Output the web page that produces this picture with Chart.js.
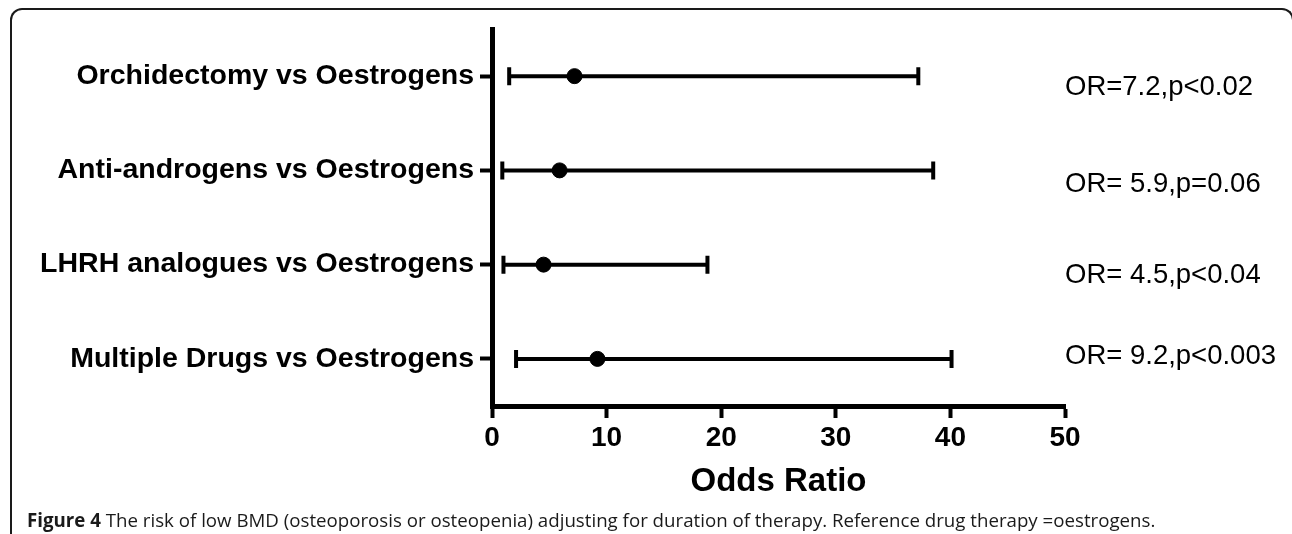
<!DOCTYPE html>
<html>
<head>
<meta charset="utf-8">
<script src="https://cdn.jsdelivr.net/npm/chart.js@4.4.1/dist/chart.umd.min.js"></script>
<style>
  html, body { margin: 0; padding: 0; background: #fff; }
  body { width: 1292px; height: 534px; position: relative; overflow: hidden; }
  .frame {
    position: absolute; left: 10px; top: 8px; width: 1280px; height: 600px;
    border: 2px solid #1a1a1a; border-bottom: none;
    border-radius: 12px 12px 0 0;
  }
  #chartBox { position: absolute; left: 0; top: 0; width: 1292px; height: 534px; }
  .caption {
    position: absolute; left: 27px; top: 507px; white-space: nowrap;
    font-family: "Open Sans", sans-serif; font-size: 18.7px; color: #1a1a1a;
    line-height: 25px;
  }
  .caption b { font-weight: 700; }
</style>
</head>
<body>
<div class="frame"></div>
<div id="chartBox"><canvas id="forestChart"></canvas></div>
<div class="caption"><b>Figure 4</b> The risk of low BMD (osteoporosis or osteopenia) adjusting for duration of therapy. Reference drug therapy =oestrogens.</div>
<script>
const categories = [
    'Orchidectomy vs Oestrogens',
    'Anti-androgens vs Oestrogens',
    'LHRH analogues vs Oestrogens',
    'Multiple Drugs vs Oestrogens',
];
const oddsRatios = [7.2, 5.9, 4.5, 9.2];
const lowerCI = [1.5, 0.9, 1.0, 2.1];
const upperCI = [37.2, 38.5, 18.8, 40.1];
const orLabels = [
    'OR=7.2,p<0.02',
    'OR= 5.9,p=0.06',
    'OR= 4.5,p<0.04',
    'OR= 9.2,p<0.003',
];
const xMin = 0;
const xMax = 50;
const xStep = 10;

// vertical nudge of each OR label relative to its row
const orLabelShift = [11, 14, 11, -2];

const FONT = "'Liberation Sans', Arial, sans-serif";

const errorBars = {
    id: 'errorBars',
    beforeDatasetsDraw(chart) {
        const ctx = chart.ctx;
        const xs = chart.scales.x;
        const ys = chart.scales.y;
        ctx.save();
        ctx.strokeStyle = '#000';
        ctx.lineWidth = 4;
        categories.forEach((cat, i) => {
            const y = ys.getPixelForValue(i);
            const x1 = xs.getPixelForValue(lowerCI[i]);
            const x2 = xs.getPixelForValue(upperCI[i]);
            ctx.beginPath();
            ctx.moveTo(x1, y);
            ctx.lineTo(x2, y);
            ctx.moveTo(x1, y - 9);
            ctx.lineTo(x1, y + 9);
            ctx.moveTo(x2, y - 9);
            ctx.lineTo(x2, y + 9);
            ctx.stroke();
        });
        ctx.restore();
    }
};

const orText = {
    id: 'orText',
    afterDraw(chart) {
        const ctx = chart.ctx;
        const xs = chart.scales.x;
        const ys = chart.scales.y;
        ctx.save();
        ctx.fillStyle = '#000';
        ctx.font = '27.5px ' + FONT;
        ctx.textAlign = 'left';
        ctx.textBaseline = 'middle';
        orLabels.forEach((txt, i) => {
            ctx.fillText(txt, xs.getPixelForValue(xMax), ys.getPixelForValue(i) + orLabelShift[i]);
        });
        ctx.restore();
    }
};

const ctx = document.getElementById('forestChart').getContext('2d');
new Chart(ctx, {
    type: 'scatter',
    data: {
        labels: categories,
        datasets: [{
            data: categories.map((cat, i) => ({ x: oddsRatios[i], y: cat })),
            backgroundColor: '#000',
            borderColor: '#000',
            pointRadius: 7.5,
            pointHoverRadius: 7.5,
        }]
    },
    options: {
        responsive: true,
        maintainAspectRatio: false,
        animation: false,
        layout: {
            padding: { top: 29, right: 227, bottom: 30, left: 0 }
        },
        plugins: {
            legend: { display: false },
            tooltip: { enabled: false },
        },
        scales: {
            x: {
                type: 'linear',
                min: xMin,
                max: xMax,
                ticks: {
                    stepSize: xStep,
                    color: '#000',
                    padding: 3,
                    font: { family: FONT, size: 28, weight: 'bold' },
                },
                grid: {
                    drawOnChartArea: false,
                    drawTicks: true,
                    tickLength: 12,
                    tickWidth: 4,
                    tickColor: '#000',
                },
                border: { display: true, width: 5, color: '#000' },
                title: {
                    display: true,
                    text: 'Odds Ratio',
                    color: '#000',
                    padding: { top: 4, bottom: 2 },
                    font: { family: FONT, size: 33, weight: 'bold' },
                },
                afterFit(scale) {
                    scale.height = 98;
                },
            },
            y: {
                type: 'category',
                labels: categories,
                offset: true,
                ticks: {
                    color: '#000',
                    padding: 6,
                    font: { family: FONT, size: 28.5, weight: 'bold' },
                },
                grid: {
                    offset: false,
                    drawOnChartArea: false,
                    drawTicks: true,
                    tickLength: 12,
                    tickWidth: 4,
                    tickColor: '#000',
                },
                border: { display: true, width: 5, color: '#000' },
                afterFit(scale) {
                    scale.width = 492;
                },
            }
        }
    },
    plugins: [errorBars, orText]
});
</script>
</body>
</html>
